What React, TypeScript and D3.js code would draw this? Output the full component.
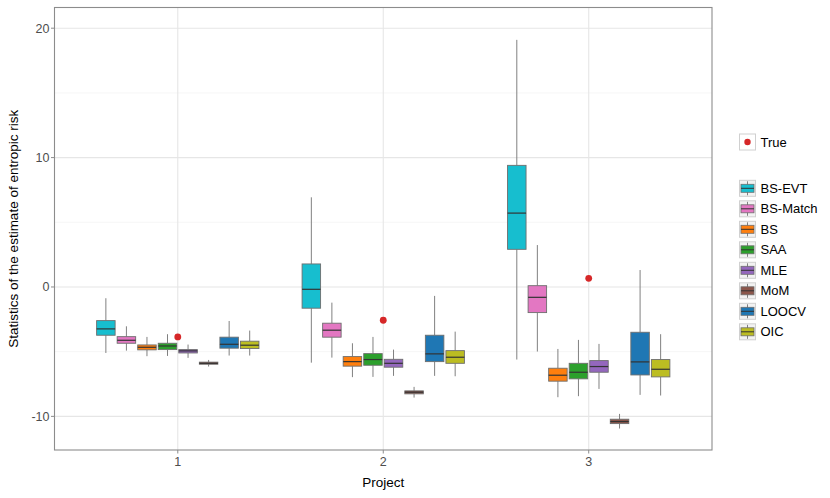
import * as d3 from 'd3';

const projects = ['1', '2', '3'];
const methods = ['BS-EVT', 'BS-Match', 'BS', 'SAA', 'MLE', 'MoM', 'LOOCV', 'OIC'];
const methodColors = ['#17becf', '#e377c2', '#ff7f0e', '#2ca02c', '#9467bd', '#8c564b', '#1f77b4', '#bcbd22'];

// one row per project, one value per method
const whiskerHigh = [
  [-0.87, -3.04, -3.86, -3.65, -4.45, -5.64, -2.63, -3.37],
  [6.93, -1.21, -4.35, -3.86, -4.84, -7.72, -0.69, -3.45],
  [19.1, 3.24, -4.79, -4.09, -4.4, -9.81, 1.31, -3.65],
];
const q3 = [
  [-2.6, -3.84, -4.48, -4.35, -4.84, -5.81, -3.88, -4.19],
  [1.78, -2.8, -5.38, -5.15, -5.59, -8.03, -3.73, -4.92],
  [9.4, 0.1, -6.28, -5.9, -5.69, -10.22, -3.5, -5.61],
];
const median = [
  [-3.24, -4.12, -4.66, -4.56, -4.94, -5.9, -4.43, -4.5],
  [-0.18, -3.34, -5.77, -5.61, -5.9, -8.13, -5.17, -5.43],
  [5.71, -0.8, -6.82, -6.59, -6.15, -10.4, -5.79, -6.36],
];
const q1 = [
  [-3.73, -4.35, -4.86, -4.84, -5.1, -5.97, -4.73, -4.76],
  [-1.64, -3.88, -6.12, -6.05, -6.2, -8.26, -5.77, -5.9],
  [2.91, -1.98, -7.28, -7.1, -6.59, -10.56, -6.8, -6.95],
];
const whiskerLow = [
  [-5.1, -4.92, -5.35, -5.33, -5.48, -6.15, -5.3, -5.3],
  [-5.85, -5.46, -6.97, -6.95, -6.87, -8.55, -6.87, -6.9],
  [-5.61, -4.99, -8.52, -8.44, -7.88, -10.94, -8.34, -8.39],
];
const trueValues = [-3.86, -2.57, 0.67];

const yTicks = [-10, 0, 10, 20];
const yMinor = [-5, 5, 15];

const W = 830;
const H = 498;
const margin = { left: 54.5, right: 712, top: 7.5, bottom: 450 };

export default function App() {
  const x = d3.scaleLinear().domain([0.4, 3.6]).range([margin.left, margin.right]);
  const y = d3.scaleLinear().domain([21.6, -12.6]).range([margin.top, margin.bottom]);
  const slot = 0.1;
  const boxW = x(0.09) - x(0);
  const font = 'Liberation Sans, Arial, Helvetica, sans-serif';

  const boxes: any[] = [];
  projects.forEach((p, pi) => {
    methods.forEach((m, mi) => {
      const cx = x(pi + 1 + (mi - 3.5) * slot);
      boxes.push(
        <g key={p + m}>
          <line x1={cx} x2={cx} y1={y(whiskerHigh[pi][mi])} y2={y(q3[pi][mi])} stroke="#808080" strokeWidth={1} />
          <line x1={cx} x2={cx} y1={y(q1[pi][mi])} y2={y(whiskerLow[pi][mi])} stroke="#808080" strokeWidth={1} />
          <rect
            x={cx - boxW / 2}
            y={y(q3[pi][mi])}
            width={boxW}
            height={Math.max(1, y(q1[pi][mi]) - y(q3[pi][mi]))}
            fill={methodColors[mi]}
            stroke="#6e6e6e"
            strokeWidth={0.9}
          />
          <line
            x1={cx - boxW / 2}
            x2={cx + boxW / 2}
            y1={y(median[pi][mi])}
            y2={y(median[pi][mi])}
            stroke="#333"
            strokeWidth={1.2}
          />
        </g>
      );
    });
  });

  const legendX = 739.5;
  const keySize = 16;

  return (
    <svg width={W} height={H} style={{ position: 'absolute', left: 0, top: 0, background: '#fff' }}>
      <rect x={margin.left} y={margin.top} width={margin.right - margin.left} height={margin.bottom - margin.top} fill="#fff" />
      {yMinor.map((t) => (
        <line key={'mn' + t} x1={margin.left} x2={margin.right} y1={y(t)} y2={y(t)} stroke="#f4f4f4" strokeWidth={0.8} />
      ))}
      {yTicks.map((t) => (
        <line key={'mj' + t} x1={margin.left} x2={margin.right} y1={y(t)} y2={y(t)} stroke="#e6e6e6" strokeWidth={1.1} />
      ))}
      {projects.map((p, i) => (
        <line key={'vx' + p} x1={x(i + 1)} x2={x(i + 1)} y1={margin.top} y2={margin.bottom} stroke="#e6e6e6" strokeWidth={1.1} />
      ))}
      {boxes}
      {trueValues.map((v, i) => (
        <circle key={'t' + i} cx={x(i + 1)} cy={y(v)} r={3.4} fill="#d62728" />
      ))}
      <rect
        x={margin.left}
        y={margin.top}
        width={margin.right - margin.left}
        height={margin.bottom - margin.top}
        fill="none"
        stroke="#8c8c8c"
        strokeWidth={1.1}
      />
      {/* y axis */}
      {yTicks.map((t) => (
        <g key={'yt' + t}>
          <line x1={margin.left - 3.5} x2={margin.left} y1={y(t)} y2={y(t)} stroke="#8c8c8c" />
          <text x={margin.left - 5} y={y(t)} dy="0.35em" textAnchor="end" fontFamily={font} fontSize={12.5} fill="#4d4d4d">
            {t}
          </text>
        </g>
      ))}
      {/* x axis */}
      {projects.map((p, i) => (
        <g key={'xt' + p}>
          <line x1={x(i + 1)} x2={x(i + 1)} y1={margin.bottom} y2={margin.bottom + 3.5} stroke="#8c8c8c" />
          <text x={x(i + 1)} y={margin.bottom + 16} textAnchor="middle" fontFamily={font} fontSize={12.5} fill="#4d4d4d">
            {p}
          </text>
        </g>
      ))}
      <text x={(margin.left + margin.right) / 2} y={487} textAnchor="middle" fontFamily={font} fontSize={13.5} fill="#000">
        Project
      </text>
      <text
        transform={`translate(18,${(margin.top + margin.bottom) / 2}) rotate(-90)`}
        textAnchor="middle"
        fontFamily={font}
        fontSize={13.5}
        fill="#000"
      >
        Statistics of the estimate of entropic risk
      </text>
      {/* legend: True */}
      <g transform={`translate(${legendX},${142 - keySize / 2})`}>
        <rect width={keySize} height={keySize} fill="#fff" stroke="#d0d0d0" />
        <circle cx={keySize / 2} cy={keySize / 2} r={3.2} fill="#d62728" />
        <text x={keySize + 5} y={keySize / 2} dy="0.35em" fontFamily={font} fontSize={13} fill="#000">
          True
        </text>
      </g>
      {/* legend: methods */}
      {methods.map((m, i) => {
        const cy = 188.3 + i * 20.5;
        return (
          <g key={'lg' + m} transform={`translate(${legendX},${cy - keySize / 2})`}>
            <rect width={keySize} height={keySize} fill="#f2f2f2" stroke="#d0d0d0" />
            <line x1={keySize / 2} x2={keySize / 2} y1={1} y2={keySize - 1} stroke="#808080" />
            <rect x={1.5} y={4} width={keySize - 3} height={keySize - 8} fill={methodColors[i]} stroke="#6e6e6e" strokeWidth={0.8} />
            <line x1={1.5} x2={keySize - 1.5} y1={keySize / 2} y2={keySize / 2} stroke="#333" />
            <text x={keySize + 5} y={keySize / 2} dy="0.35em" fontFamily={font} fontSize={13} fill="#000">
              {m}
            </text>
          </g>
        );
      })}
    </svg>
  );
}
